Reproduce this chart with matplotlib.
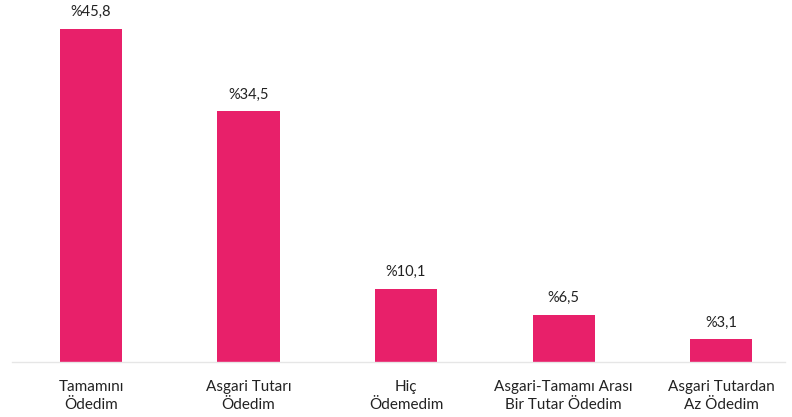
import matplotlib
matplotlib.use("Agg")
import matplotlib.pyplot as plt

categories = ["Tamamını\nÖdedim", "Asgari Tutarı\nÖdedim", "Hiç\nÖdemedim",
              "Asgari-Tamamı Arası\nBir Tutar Ödedim", "Asgari Tutardan\nAz Ödedim"]
values = [45.8, 34.5, 10.1, 6.5, 3.1]
value_labels = ["%45,8", "%34,5", "%10,1", "%6,5", "%3,1"]

plt.rcParams['font.family'] = ['Lato', 'DejaVu Sans']

fig = plt.figure(figsize=(7.92, 4.17), dpi=100)
ax = fig.add_axes([12/792, 55/417, (785-12)/792, 362/417])

x = range(len(values))
bars = ax.bar(x, values, width=0.394, color="#E8206A", zorder=2)

for xi, v, lab in zip(x, values, value_labels):
    ax.annotate(lab, (xi, v), xytext=(0, 7), textcoords="offset points",
                ha="center", va="bottom", fontsize=10.5, color="#222222")

ax.set_xlim(-0.5016, 4.406)
ax.set_ylim(0, 49.8)
ax.set_xticks(list(x))
ax.set_xticklabels(categories, fontsize=11, color="#222222", linespacing=1.4)
ax.tick_params(axis="x", length=0, pad=13)
ax.set_yticks([])
for s in ["top", "right", "left"]:
    ax.spines[s].set_visible(False)
ax.spines["bottom"].set_color("#e6e6e6")
ax.spines["bottom"].set_linewidth(1)

fig.savefig("out.png", dpi=100)
